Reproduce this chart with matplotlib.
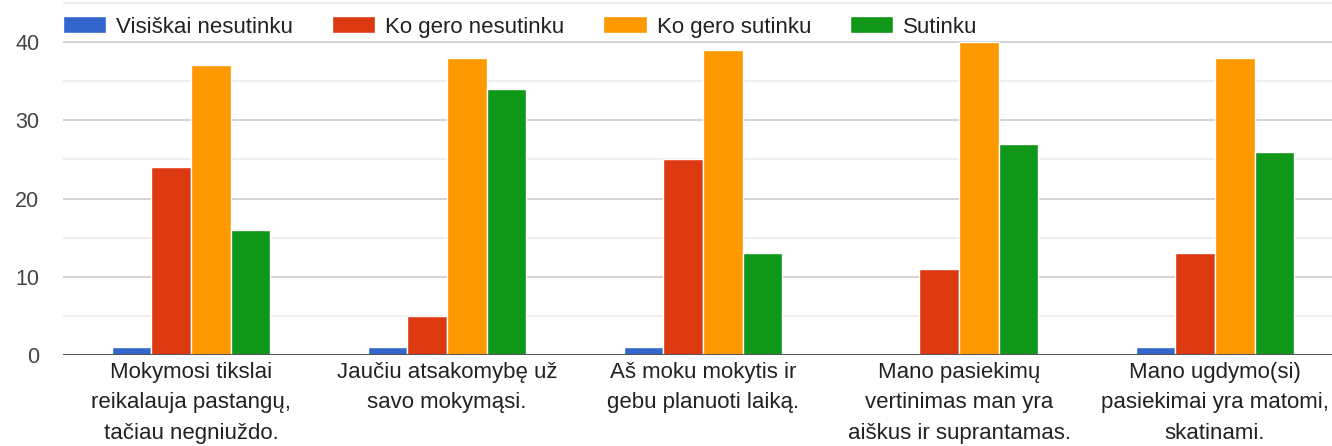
import matplotlib
matplotlib.use('Agg')
import matplotlib.pyplot as plt
import numpy as np

plt.rcParams['font.family'] = ['Liberation Sans', 'DejaVu Sans']

categories = [
    'Mokymosi tikslai\nreikalauja pastangų,\ntačiau negniuždo.',
    'Jaučiu atsakomybę už\nsavo mokymąsi.',
    'Aš moku mokytis ir\ngebu planuoti laiką.',
    'Mano pasiekimų\nvertinimas man yra\naiškus ir suprantamas.',
    'Mano ugdymo(si)\npasiekimai yra matomi,\nskatinami.',
]
series_names = ['Visiškai nesutinku', 'Ko gero nesutinku', 'Ko gero sutinku', 'Sutinku']
visiskai_nesutinku = [1, 1, 1, 0, 1]
ko_gero_nesutinku = [24, 5, 25, 11, 13]
ko_gero_sutinku = [37, 38, 39, 40, 38]
sutinku = [16, 34, 13, 27, 26]
colors = ['#3366cc', '#dc3912', '#ff9900', '#109618']

W, H = 1332, 446
fig = plt.figure(figsize=(W / 100, H / 100), dpi=100)
ax = fig.add_axes([63 / W, (H - 355) / H, 1280 / W, 355 / H])

x = np.arange(len(categories))
bar_w = 0.155
all_series = [visiskai_nesutinku, ko_gero_nesutinku, ko_gero_sutinku, sutinku]
for i, (vals, name, c) in enumerate(zip(all_series, series_names, colors)):
    ax.bar(x + (i - 1.5) * bar_w, vals, bar_w, color=c, edgecolor='white',
           linewidth=1, label=name, zorder=3)

ax.set_xlim(-0.5, 4.5)
ax.set_ylim(0, 45.37)
ax.set_yticks([0, 10, 20, 30, 40])
ax.set_yticks([5, 15, 25, 35, 45], minor=True)
ax.grid(axis='y', which='major', color='#cccccc', linewidth=1.2, zorder=0)
ax.grid(axis='y', which='minor', color='#ebebeb', linewidth=1.2, zorder=0)
ax.axhline(0, color='#555555', linewidth=2.2, zorder=4)
for s in ax.spines.values():
    s.set_visible(False)
ax.tick_params(axis='y', which='both', length=0, pad=17, labelsize=15.5,
               labelcolor='#444444')
ax.set_xticks(x)
ax.set_xticklabels(categories, fontsize=16, color='#222222', linespacing=1.58)
ax.tick_params(axis='x', length=0, pad=5)

fig.legend(loc='center left', bbox_to_anchor=(63 / W, 1 - 27 / H), ncol=4,
           frameon=False, fontsize=16, handlelength=1.95, handleheight=0.77,
           handletextpad=0.45, columnspacing=1.75, borderpad=0, borderaxespad=0,
           labelcolor='#222222')

fig.savefig('out.png', dpi=100)
